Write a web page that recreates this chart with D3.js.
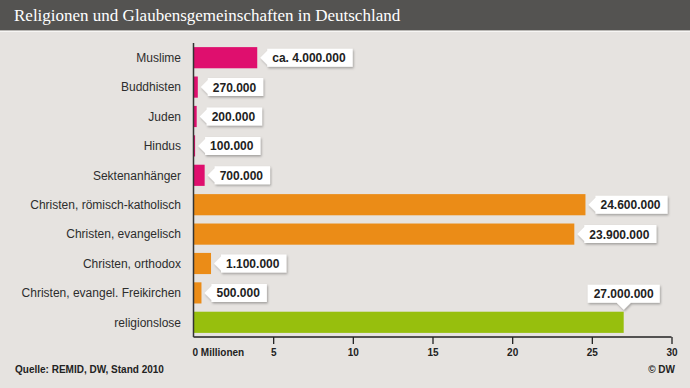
<!DOCTYPE html>
<html>
<head>
<meta charset="utf-8">
<script src="https://cdn.jsdelivr.net/npm/d3@7"></script>
<style>
  html, body { margin: 0; padding: 0; background: #e6e3e0; }
  svg { display: block; font-family: "Liberation Sans", Arial, sans-serif; }
</style>
</head>
<body>
<svg id="chart" width="690" height="388"></svg>
<script>
// chart data
var categories = ["Muslime", "Buddhisten", "Juden", "Hindus", "Sektenanhänger",
  "Christen, römisch-katholisch", "Christen, evangelisch", "Christen, orthodox",
  "Christen, evangel. Freikirchen", "religionslose"];
var values = [4.0, 0.27, 0.2, 0.1, 0.7, 24.6, 23.9, 1.1, 0.5, 27.0]; // millions
var valueLabels = ["ca. 4.000.000", "270.000", "200.000", "100.000", "700.000",
  "24.600.000", "23.900.000", "1.100.000", "500.000", "27.000.000"];
var groups = ["other", "other", "other", "other", "other",
  "christ", "christ", "christ", "christ", "none"];
var tickValues = [0, 5, 10, 15, 20, 25, 30];

var groupColor = { other: "#df0f6e", christ: "#eb8c17", none: "#97bf0d" };

var svg = d3.select("#chart");

// background + title bar
svg.append("rect").attr("width", 690).attr("height", 388).attr("fill", "#e6e3e0");
svg.append("rect").attr("width", 690).attr("height", 30).attr("fill", "#545351");
svg.append("rect").attr("y", 30).attr("width", 690).attr("height", 1).attr("fill", "#b9b7b4");
svg.append("rect").attr("y", 31).attr("width", 690).attr("height", 1).attr("fill", "#f7f6f4");
svg.append("text")
  .attr("x", 14).attr("y", 21)
  .attr("fill", "#ffffff")
  .style("font-family", "'Liberation Serif', 'Times New Roman', serif")
  .style("font-size", "17px")
  .text("Religionen und Glaubensgemeinschaften in Deutschland");

var x = d3.scaleLinear().domain([0, 30]).range([193.5, 671.5]);
var y = d3.scaleBand().domain(categories).range([43, 337]).paddingInner(0.28).paddingOuter(0.14);

var defs = svg.append("defs");
var filt = defs.append("filter").attr("id", "shadow").attr("x", "-20%").attr("y", "-30%").attr("width", "140%").attr("height", "170%");
filt.append("feDropShadow").attr("dx", 1).attr("dy", 1.5).attr("stdDeviation", 1.2)
  .attr("flood-color", "#000").attr("flood-opacity", 0.3);

// bars
svg.append("g").selectAll("rect")
  .data(categories)
  .enter().append("rect")
  .attr("x", x(0))
  .attr("y", function(d) { return y(d); })
  .attr("width", function(d, i) { return x(values[i]) - x(0); })
  .attr("height", y.bandwidth())
  .attr("fill", function(d, i) { return groupColor[groups[i]]; });

// category labels
svg.append("g").selectAll("text")
  .data(categories)
  .enter().append("text")
  .attr("x", 181)
  .attr("y", function(d) { return y(d) + y.bandwidth() / 2 + 4.3; })
  .attr("text-anchor", "end")
  .attr("fill", "#2d2d2d")
  .style("font-size", "12px")
  .text(function(d) { return d; });

// x axis
var axis = svg.append("g").attr("transform", "translate(0,337)")
  .call(d3.axisBottom(x).tickValues(tickValues).tickSize(7).tickFormat(function(d) { return d === 0 ? "0 Millionen" : d; }));
axis.select(".domain").attr("stroke", "#222").attr("stroke-width", 1.5).attr("d", "M" + x(0) + ",0H" + x(30));
axis.selectAll(".tick line").attr("stroke", "#222").attr("stroke-width", 1.3);
axis.selectAll(".tick text")
  .attr("fill", "#222").attr("y", 12)
  .style("font-size", "10px").style("font-weight", "bold")
  .attr("text-anchor", function(d) { return d === 0 ? "start" : "middle"; })
  .attr("dx", function(d) { return d === 0 ? -1.5 : 0; });
axis.selectAll(".tick").filter(function(d) { return d === 0; }).select("line").remove();

// y axis line
svg.append("line")
  .attr("x1", x(0)).attr("x2", x(0))
  .attr("y1", 43).attr("y2", 337)
  .attr("stroke", "#333").attr("stroke-width", 1.5);

// value callouts
var callouts = svg.append("g");
categories.forEach(function(cat, i) {
  var g = callouts.append("g");
  var label = g.append("text")
    .style("font-size", "12px").style("font-weight", "bold")
    .attr("fill", "#222")
    .text(valueLabels[i]);
  var w = label.node().getComputedTextLength() + 12;
  var h = 18;
  var xe = x(values[i]);
  var cy = y(cat) + y.bandwidth() / 2;
  var path;
  if (cat === "religionslose") {
    // box above bar end with downward pointer
    var tipY = y(cat) - 2;
    var top = tipY - 7 - h;
    var left = xe - w / 2;
    path = "M" + left + "," + top + "h" + w + "v" + h + "h" + (-(w / 2 - 7)) +
      "l-7,7l-7,-7h" + (-(w / 2 - 7)) + "z";
    label.attr("x", xe).attr("y", top + 13.5).attr("text-anchor", "middle");
  } else {
    var tip = xe + 3;
    var left2 = tip + 7;
    path = "M" + tip + "," + cy + "l7,-7v" + (-(h / 2 - 7)) + "h" + w + "v" + h + "h" + (-w) +
      "v" + (-(h / 2 - 7)) + "z";
    label.attr("x", left2 + 5).attr("y", cy + 4.5);
  }
  g.insert("path", "text").attr("d", path).attr("fill", "#ffffff").attr("filter", "url(#shadow)");
});

// footer
svg.append("text").attr("x", 15).attr("y", 373)
  .style("font-size", "10px").style("font-weight", "bold").attr("fill", "#222")
  .text("Quelle: REMID, DW, Stand 2010");
svg.append("text").attr("x", 675).attr("y", 373).attr("text-anchor", "end")
  .style("font-size", "10px").style("font-weight", "bold").attr("fill", "#222")
  .text("© DW");
</script>
</body>
</html>
